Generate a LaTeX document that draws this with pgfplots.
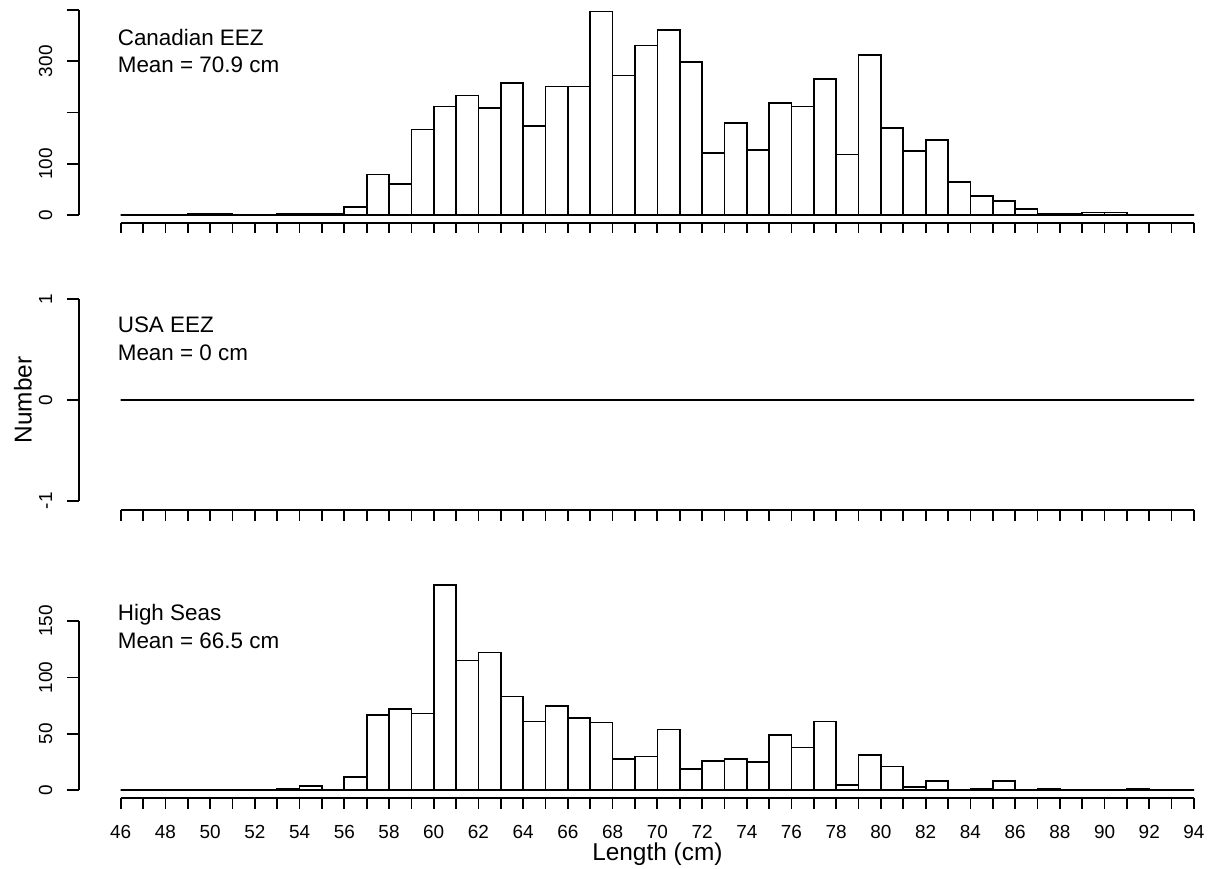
\documentclass[border=0pt]{standalone}
\usepackage{pgfplots}
\pgfplotsset{compat=1.18}
\usepackage{fontspec}
\setmainfont{Liberation Sans}
\newcommand\ticklab{\fontsize{19}{22}\selectfont}
\newcommand\annot{\fontsize{22.5}{26}\selectfont}
\newcommand\axtitle{\fontsize{24.5}{29}\selectfont}
\begin{document}
\begin{tikzpicture}
\useasboundingbox (0,0) rectangle (1211bp,-869bp);
% Panel 1: Canadian EEZ
\begin{axis}[at={(120.7bp,-215bp)}, anchor=south west, scale only axis,
  width=1073.3bp, height=205bp, xmin=46, xmax=94, ymin=0, ymax=400,
  hide axis, clip=false, ybar interval]
\addplot[draw=black, fill=white, line width=1.7bp] coordinates {
(46,0) (47,0) (48,0) (49,2) (50,2) (51,0) (52,0) (53,2) (54,2) (55,2)
(56,15) (57,79) (58,61) (59,167) (60,212) (61,233) (62,209) (63,258) (64,173) (65,251)
(66,251) (67,397) (68,272) (69,331) (70,361) (71,298) (72,121) (73,179) (74,127) (75,218)
(76,212) (77,266) (78,118) (79,312) (80,170) (81,125) (82,146) (83,64) (84,37) (85,27)
(86,12) (87,3) (88,2) (89,5) (90,5) (91,0) (92,0) (93,0) (94,0)};
\end{axis}
% Panel 2: USA EEZ
\begin{axis}[at={(120.7bp,-500.7bp)}, anchor=south west, scale only axis,
  width=1073.3bp, height=201.4bp, xmin=46, xmax=94, ymin=-1, ymax=1,
  hide axis, clip=false, ybar interval]
\addplot[draw=black, fill=white, line width=1.7bp] coordinates {
(46,0) (47,0) (48,0) (49,0) (50,0) (51,0) (52,0) (53,0) (54,0) (55,0)
(56,0) (57,0) (58,0) (59,0) (60,0) (61,0) (62,0) (63,0) (64,0) (65,0)
(66,0) (67,0) (68,0) (69,0) (70,0) (71,0) (72,0) (73,0) (74,0) (75,0)
(76,0) (77,0) (78,0) (79,0) (80,0) (81,0) (82,0) (83,0) (84,0) (85,0)
(86,0) (87,0) (88,0) (89,0) (90,0) (91,0) (92,0) (93,0) (94,0)};
\end{axis}
% Panel 3: High Seas
\begin{axis}[at={(120.7bp,-790.3bp)}, anchor=south west, scale only axis,
  width=1073.3bp, height=169.3bp, xmin=46, xmax=94, ymin=0, ymax=150,
  hide axis, clip=false, ybar interval]
\addplot[draw=black, fill=white, line width=1.7bp] coordinates {
(46,0) (47,0) (48,0) (49,0) (50,0) (51,0) (52,0) (53,1) (54,4) (55,0)
(56,12) (57,67) (58,72) (59,68) (60,182) (61,115) (62,122) (63,83) (64,61) (65,75)
(66,64) (67,60) (68,28) (69,30) (70,54) (71,19) (72,26) (73,28) (74,25) (75,49)
(76,38) (77,61) (78,5) (79,31) (80,21) (81,3) (82,8) (83,0) (84,1) (85,8)
(86,0) (87,1) (88,0) (89,0) (90,0) (91,1) (92,0) (93,0) (94,0)};
\end{axis}
\begin{scope}[x=1bp, y=-1bp, line width=1.7bp]
% ---- panel 1 axes
\draw (79,10) -- (79,215);
\foreach \y in {215,163.75,112.5,61.25,10} {\draw (67,\y) -- (79,\y);}
\node[rotate=90, inner sep=0, font=\ticklab] at (45.5,215) {0};
\node[rotate=90, inner sep=0, font=\ticklab] at (45.5,163.75) {100};
\node[rotate=90, inner sep=0, font=\ticklab] at (45.5,61.25) {300};
\draw (120.7,222.7) -- (1194,222.7);
\foreach \i in {0,...,48} {\draw ({120.7+\i*22.36},222.7) -- ++(0,10.3);}
\node[anchor=base west, inner sep=0, font=\annot] at (117,45.5) {Canadian EEZ};
\node[anchor=base west, inner sep=0, font=\annot] at (117,72.7) {Mean = 70.9 cm};
% ---- panel 2 axes
\draw (79,299.3) -- (79,500.7);
\foreach \y in {299.3,400,500.7} {\draw (67,\y) -- (79,\y);}
\node[rotate=90, inner sep=0, font=\ticklab] at (45.5,299.3) {1};
\node[rotate=90, inner sep=0, font=\ticklab] at (45.5,400) {0};
\node[rotate=90, inner sep=0, font=\ticklab] at (45.5,500.7) {-1};
\draw (120.7,510) -- (1194,510);
\foreach \i in {0,...,48} {\draw ({120.7+\i*22.36},510) -- ++(0,10.7);}
\node[anchor=base west, inner sep=0, font=\annot] at (117,332.3) {USA EEZ};
\node[anchor=base west, inner sep=0, font=\annot] at (117,360) {Mean = 0 cm};
% ---- panel 3 axes
\draw (79,621) -- (79,790.3);
\foreach \y in {790.3,733.87,677.43,621} {\draw (67,\y) -- (79,\y);}
\node[rotate=90, inner sep=0, font=\ticklab] at (45.5,790.3) {0};
\node[rotate=90, inner sep=0, font=\ticklab] at (45.5,733.87) {50};
\node[rotate=90, inner sep=0, font=\ticklab] at (45.5,677.43) {100};
\node[rotate=90, inner sep=0, font=\ticklab] at (45.5,621) {150};
\draw (120.7,798.3) -- (1194,798.3);
\foreach \i in {0,...,48} {\draw ({120.7+\i*22.36},798.3) -- ++(0,10.7);}
\foreach \v in {46,48,...,94} {\node[anchor=base, inner sep=0, font=\ticklab] at ({120.7+(\v-46)*22.36},838) {\v};}
\node[anchor=base west, inner sep=0, font=\annot] at (117,620) {High Seas};
\node[anchor=base west, inner sep=0, font=\annot] at (117,648.3) {Mean = 66.5 cm};
% ---- axis titles
\node[anchor=base, inner sep=0, font=\axtitle] at (657.4,860) {Length (cm)};
\node[rotate=90, inner sep=0, font=\axtitle] at (23,400) {Number};
\end{scope}
\end{tikzpicture}
\end{document}
